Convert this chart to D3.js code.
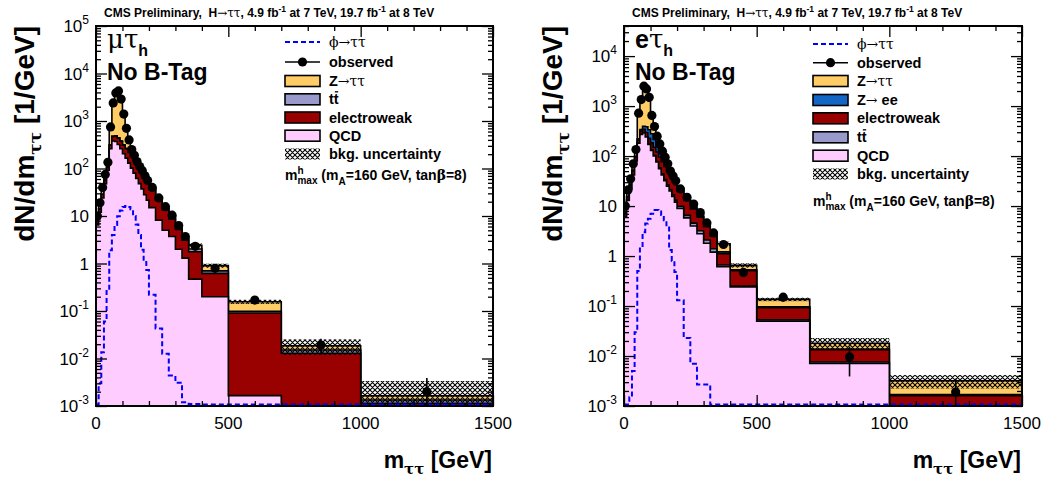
<!DOCTYPE html>
<html>
<head>
<meta charset="utf-8">
<script src="https://cdn.jsdelivr.net/npm/d3@7/dist/d3.min.js"></script>
<style>
  html, body { margin: 0; padding: 0; background: #fff; }
  svg { display: block; }
  svg text { white-space: pre; }
</style>
</head>
<body>
<svg id="chart" width="1045" height="478"></svg>
<script>
// m_tautau binning (GeV), shared by both channels
const binEdges = [0,10,20,30,40,50,60,70,80,90,100,110,120,130,140,150,160,170,180,190,200,
                  225,250,275,300,325,350,400,500,700,1000,1500];

// ---- mu tau_h channel, no b-tag (dN/dm in 1/GeV) ----
const mtQCD = [6.5,12,24,48,92,260,380,370,320,260,205,165,130,102,80,62,48,37,28,21.5,15,8.2,5,3.7,2,1.3,0.47,0.2,0.00165,0,0];
const mtEWK = [1.2,2.2,4.5,8.5,15,50,95,115,120,115,105,96,88,78,70,60,51,44,36,30,21.5,13,8.5,5,3.2,1.8,1.3,0.42,0.089,0.0129,0.00114];
const mtTT  = [0.05,0.08,0.15,0.3,0.5,1,2,3,3,4,4,4,4,4,4,3.5,3.5,3,3,2.5,2,1.5,1.1,0.8,0.5,0.3,0.25,0.08,0.008,0.0022,0.0002];
const mtZTT = [2,4,9,19,32,435,1920,3400,3800,2500,1080,440,175,68,34,16,8,4.5,3,2,1.5,0.8,0.6,0.4,0.3,0.2,0.4,0.2,0.058,0.0035,0.0003];
const mtObs = [10,19,40,75,135,750,2400,3900,4300,2900,1400,700,400,250,190,140,110,90,70,56,40,24,15.7,10.4,6.3,3.7,2.3,0.79,0.17,0.0192,0.002];
const mtObsErr = [1,1.4,2,2.7,3.7,8.7,15.5,19.7,20.7,17,11.8,8.4,6.3,5,4.4,3.7,3.3,3,2.6,2.4,1.3,1,0.8,0.65,0.5,0.38,0.21,0.09,0.029,0.007,0.0019];
const mtBkgUnc = [0.05,0.05,0.05,0.05,0.05,0.05,0.05,0.05,0.05,0.05,0.05,0.05,0.05,0.05,0.05,0.05,0.05,0.05,0.05,0.05,
                  0.06,0.06,0.07,0.07,0.08,0.08,0.1,0.1,0.1,0.36,1.05];
const mtSignal = [0,0.003,0.0135,0.06,0.28,1.9,4.0,6.5,9.9,13,15.5,16.3,15.5,13.8,10,6.6,4.0,1.95,1.2,0.73,0.22,0.043,0.0126,0.0044,0.0031,0.0012,0.0011,0,0,0,0];

// ---- e tau_h channel, no b-tag ----
const etQCD = [6,13,22,42,80,180,270,290,240,170,130,100,76,56,42,32,25,20,15.5,12,9,5.8,4,2.8,1.8,1.2,0.61,0.24,0.05,0.0071,0];
const etTT  = [0.05,0.1,0.2,0.3,0.5,1,1.5,2,2,2,2,2,2,2,2,1.8,1.6,1.4,1.2,1.1,0.9,0.7,0.55,0.4,0.3,0.2,0.05,0.01,0.003,0.0005,0.0002];
const etEWK = [1,2,4,8,14,28,42,52,55,55,52,48,43,38,33,28,24,20,16.5,13.5,10,6.5,4.2,2.8,1.8,1.1,0.45,0.26,0.04,0.0058,0.0014];
const etZEE = [0.3,0.6,1.2,2.5,5,12,25,50,90,110,95,65,40,24,14,8,4.5,2.5,1.5,1,0.6,0.4,0.3,0.2,0.15,0.1,0.1,0.02,0.003,0.0003,0.0001];
const etZTT = [2.4,5,8,17,38,470,1000,1900,1800,950,380,160,75,38,20,12,7,4.5,3,2.2,1.5,1,0.8,0.6,0.45,0.35,0.55,0.12,0.04,0.0043,0.0015];
const etObs = [10,21,35,70,135,720,1350,2500,2200,1500,650,390,250,175,125,95,70,50,40,32,22,15,11,7.4,4.6,2.9,1.7,0.47,0.15,0.0096,0.0019];
const etObsErr = [1,1.4,1.9,2.6,3.7,8.5,11.6,15.8,14.8,12.2,8,6.2,5,4.2,3.5,3.1,2.6,2.2,2,1.8,0.94,0.77,0.66,0.54,0.43,0.34,0.18,0.069,0.027,0.0057,0.0016];
const etBkgUnc = [0.05,0.05,0.05,0.05,0.05,0.05,0.05,0.05,0.05,0.05,0.05,0.05,0.05,0.05,0.05,0.05,0.05,0.05,0.05,0.05,
                  0.07,0.07,0.07,0.07,0.07,0.07,0.1,0.1,0.08,0.27,0.3];
const etSignal = [0,0,0.0015,0.005,0.03,0.5,1.5,3,4.5,5.6,7,8.3,8.3,7.8,6.6,5.2,3.9,1.32,0.8,0.48,0.13,0.023,0.007,0.0027,0.0027,0,0,0,0,0,0];

// axis ticks
const xTicks = [0,500,1000,1500];
const mtYTicks = [1e-3,1e-2,1e-1,1,10,100,1e3,1e4,1e5];
const etYTicks = [1e-3,1e-2,1e-1,1,10,100,1e3,1e4];

const COL = { ZTT: "#ffcc66", EWK: "#990000", TT: "#9999cc", QCD: "#ffccff", ZEE: "#1466c6", SIG: "#0000ff" };
const SANS = '"Liberation Sans", Arial, Helvetica, sans-serif';
const GREEK = '"DejaVu Serif", "Liberation Serif", "Times New Roman", serif';
const yMin = 1e-3;

const svg = d3.select("#chart");
const defs = svg.append("defs");
const hatch = defs.append("pattern").attr("id", "bkgHatch")
  .attr("patternUnits", "userSpaceOnUse").attr("width", 5).attr("height", 5);
hatch.append("path").attr("d", "M0,0L5,5M5,0L0,5M-1,4L1,6M4,-1L6,1")
  .attr("stroke", "#000").attr("stroke-width", 1.1);

// Sequential text runs (sub/superscripts, mixed fonts); returns group and width
function richText(parent, pieces, base) {
  const g = parent.append("g");
  let cx = 0, held = 0;
  pieces.forEach(pc => {
    const fs = pc.fs || base.fs;
    const t = g.append("text")
      .attr("x", cx).attr("y", pc.dy || 0)
      .attr("font-size", fs)
      .attr("font-weight", pc.fw || base.fw)
      .attr("font-family", pc.ff || base.ff)
      .attr("fill", "#000")
      .text(pc.t);
    const w = t.node().getComputedTextLength();
    if (pc.bar) {
      g.append("line").attr("x1", cx + 1).attr("x2", cx + w - 0.5)
        .attr("y1", -fs * 0.86).attr("y2", -fs * 0.86)
        .attr("stroke", "#000").attr("stroke-width", 1.3);
    }
    if (pc.hold) { held = Math.max(held, w); }
    else { cx += Math.max(w, held); held = 0; }
  });
  return { g, width: cx };
}

function drawPanel(p) {
  const root = svg.append("g");
  const x = d3.scaleLinear().domain([binEdges[0], binEdges[binEdges.length - 1]]).range([p.left, p.right]);
  const y = d3.scaleLog().domain([yMin, p.yMax]).range([p.bottom, p.top]);
  const floorV = 1e-6;
  const nb = binEdges.length - 1;

  const clipId = "clip-" + p.id;
  defs.append("clipPath").attr("id", clipId).append("rect")
    .attr("x", p.left).attr("y", p.top).attr("width", p.right - p.left).attr("height", p.bottom - p.top);
  const plot = root.append("g").attr("clip-path", `url(#${clipId})`);

  // cumulative stack, bottom layer first
  let run = new Array(nb).fill(0);
  const cums = p.stack.map(layer => {
    run = run.map((r, i) => r + layer.values[i]);
    return { color: layer.color, values: run.slice() };
  });
  const stepPts = vals => vals.map((v, i) => [binEdges[i], v]).concat([[binEdges[nb], vals[nb - 1]]]);
  const area = d3.area().curve(d3.curveStepAfter)
    .x(d => x(d[0])).y0(p.bottom).y1(d => y(Math.max(d[1], floorV)));
  cums.slice().reverse().forEach(c => {
    plot.append("path").attr("d", area(stepPts(c.values)))
      .attr("fill", c.color).attr("stroke", "#000").attr("stroke-width", 1.6)
      .attr("stroke-linejoin", "miter");
  });
  const total = cums[cums.length - 1].values;

  // background uncertainty band
  plot.selectAll(null).data(total).join("rect")
    .attr("x", (d, i) => x(binEdges[i]))
    .attr("width", (d, i) => x(binEdges[i + 1]) - x(binEdges[i]))
    .attr("y", (d, i) => y(d * (1 + p.unc[i])))
    .attr("height", (d, i) => y(Math.max(d * (1 - p.unc[i]), floorV)) - y(d * (1 + p.unc[i])))
    .attr("fill", "url(#bkgHatch)");

  // signal expectation
  const sigLine = d3.line().curve(d3.curveStepAfter)
    .x(d => x(d[0])).y(d => Math.min(y(Math.max(d[1], floorV)), p.bottom - 1.5));
  plot.append("path").attr("d", sigLine(stepPts(p.signal)))
    .attr("fill", "none").attr("stroke", COL.SIG).attr("stroke-width", 2).attr("stroke-dasharray", "5,3");

  // observed data
  const centers = p.obs.map((v, i) => (binEdges[i] + binEdges[i + 1]) / 2);
  plot.selectAll(null).data(p.obs).join("line")
    .attr("x1", (d, i) => x(centers[i])).attr("x2", (d, i) => x(centers[i]))
    .attr("y1", (d, i) => y(d + p.err[i]))
    .attr("y2", (d, i) => y(Math.max(d - p.err[i], floorV)))
    .attr("stroke", "#000").attr("stroke-width", 1.6);
  plot.selectAll(null).data(p.obs).join("circle")
    .attr("cx", (d, i) => x(centers[i])).attr("cy", d => y(d)).attr("r", 4.6).attr("fill", "#000");

  // ticks on all four sides, pointing inward
  const xMinor = d3.range(100, 1500, 100).filter(v => v % 500 !== 0);
  const yMinor = [];
  p.yTicks.forEach(dec => { for (let m = 2; m <= 9; m++) if (dec * m <= p.yMax) yMinor.push(dec * m); });
  const tickAxis = (axisFn, scale, values, size, tr) => {
    root.append("g").attr("transform", tr)
      .call(axisFn(scale).tickValues(values).tickSize(size).tickFormat(""))
      .call(g => { g.select(".domain").remove(); g.selectAll("line").attr("stroke", "#000").attr("stroke-width", 1.3); g.selectAll("text").remove(); });
  };
  tickAxis(d3.axisBottom, x, xTicks, -11, `translate(0,${p.bottom})`);
  tickAxis(d3.axisBottom, x, xMinor, -5, `translate(0,${p.bottom})`);
  tickAxis(d3.axisTop, x, xTicks, -11, `translate(0,${p.top})`);
  tickAxis(d3.axisTop, x, xMinor, -5, `translate(0,${p.top})`);
  tickAxis(d3.axisLeft, y, p.yTicks, -11, `translate(${p.left},0)`);
  tickAxis(d3.axisLeft, y, yMinor, -5, `translate(${p.left},0)`);
  tickAxis(d3.axisRight, y, p.yTicks, -11, `translate(${p.right},0)`);
  tickAxis(d3.axisRight, y, yMinor, -5, `translate(${p.right},0)`);

  root.append("rect").attr("x", p.left).attr("y", p.top)
    .attr("width", p.right - p.left).attr("height", p.bottom - p.top)
    .attr("fill", "none").attr("stroke", "#000").attr("stroke-width", 2);

  // tick labels
  xTicks.forEach(v => {
    root.append("text").attr("x", x(v)).attr("y", p.bottom + 23)
      .attr("text-anchor", "middle").attr("font-size", 17).attr("font-family", SANS).text(v);
  });
  p.yTicks.forEach(v => {
    const k = Math.round(Math.log10(v));
    const t = root.append("text").attr("x", p.left - 7).attr("y", y(v) + 6)
      .attr("text-anchor", "end").attr("font-size", 17).attr("font-family", SANS);
    if (k === 0) t.text("1");
    else if (k === 1) t.text("10");
    else {
      t.append("tspan").text("10");
      t.append("tspan").attr("dy", -8).attr("font-size", 12).text(k);
    }
  });

  // header line
  const title = richText(root, [
    { t: "CMS Preliminary,  H" },
    { t: "\u2192\u03c4\u03c4", ff: GREEK, fw: "normal" },
    { t: ", 4.9 fb" }, { t: "-1", dy: -5, fs: 8.5 },
    { t: " at 7 TeV, 19.7 fb" }, { t: "-1", dy: -5, fs: 8.5 },
    { t: " at 8 TeV" }
  ], { fs: 12, fw: "bold", ff: SANS });
  title.g.attr("transform", `translate(${p.left + 8},17)`);

  // axis titles, right/top aligned
  const xt = richText(root, [
    { t: "m" }, { t: "\u03c4\u03c4", ff: GREEK, fs: 15, dy: 6 }, { t: " [GeV]" }
  ], { fs: 23, fw: "bold", ff: SANS });
  xt.g.attr("transform", `translate(${p.right - 1 - xt.width},468)`);

  const ytOuter = root.append("g").attr("transform", `translate(${p.left - 62},${p.top}) rotate(-90)`);
  const yt = richText(ytOuter, [
    { t: "dN/dm" }, { t: "\u03c4\u03c4", ff: GREEK, fs: 17, dy: 7 }, { t: " [1/GeV]" }
  ], { fs: 28, fw: "bold", ff: SANS });
  yt.g.attr("transform", `translate(${-yt.width},0)`);

  // channel and category
  const ch = richText(root, p.channel, { fs: 25, fw: "bold", ff: SANS });
  ch.g.attr("transform", `translate(${p.left + 11},48)`);
  root.append("text").attr("x", p.left + 11).attr("y", 80)
    .attr("font-size", 23).attr("font-weight", "bold").attr("font-family", SANS).text("No B-Tag");

  // legend
  const lg = root.append("g");
  p.legend.forEach(e => {
    const cy = e.y;
    const bx = p.legendX, bw = 35, bh = 11;
    if (e.kind === "signal") {
      lg.append("line").attr("x1", bx).attr("x2", bx + bw).attr("y1", cy).attr("y2", cy)
        .attr("stroke", COL.SIG).attr("stroke-width", 2).attr("stroke-dasharray", "5,3");
    } else if (e.kind === "obs") {
      lg.append("line").attr("x1", bx).attr("x2", bx + bw).attr("y1", cy).attr("y2", cy)
        .attr("stroke", "#000").attr("stroke-width", 1.6);
      lg.append("circle").attr("cx", bx + bw / 2).attr("cy", cy).attr("r", 4.6).attr("fill", "#000");
    } else if (e.kind === "hatch") {
      lg.append("rect").attr("x", bx).attr("y", cy - bh / 2).attr("width", bw).attr("height", bh)
        .attr("fill", "url(#bkgHatch)");
    } else {
      lg.append("rect").attr("x", bx).attr("y", cy - bh / 2).attr("width", bw).attr("height", bh)
        .attr("fill", e.color).attr("stroke", "#000").attr("stroke-width", 1.6);
    }
    const tg = richText(lg, e.label, { fs: 14.5, fw: "bold", ff: SANS });
    tg.g.attr("transform", `translate(${p.legendTextX},${cy + 5})`);
  });
  const note = richText(lg, [
    { t: "m" }, { t: "h", fs: 10, dy: -6, hold: true }, { t: "max", fs: 10, dy: 4 },
    { t: " (m" }, { t: "A", fs: 10, dy: 5 }, { t: "=160 GeV, tan" },
    { t: "\u03b2", ff: GREEK }, { t: "=8)" }
  ], { fs: 14, fw: "bold", ff: SANS });
  note.g.attr("transform", `translate(${p.legendX},${p.noteY})`);
}

const sigLabel = [{ t: "\u03d5\u2192\u03c4\u03c4", ff: GREEK, fw: "normal", fs: 14 }];
const zttLabel = [{ t: "Z" }, { t: "\u2192\u03c4\u03c4", ff: GREEK, fw: "normal", fs: 14 }];
const ttLabel = [{ t: "t" }, { t: "t", bar: true }];

drawPanel({
  id: "mt", left: 96, right: 493, top: 26, bottom: 406, yMax: 1e5, yTicks: mtYTicks,
  stack: [
    { color: COL.QCD, values: mtQCD },
    { color: COL.EWK, values: mtEWK },
    { color: COL.TT, values: mtTT },
    { color: COL.ZTT, values: mtZTT }
  ],
  unc: mtBkgUnc, signal: mtSignal, obs: mtObs, err: mtObsErr,
  channel: [{ t: "\u03bc\u03c4", ff: GREEK, fw: "normal", fs: 26 }, { t: "h", fs: 16, dy: 8 }],
  legendX: 285, legendTextX: 329, noteY: 180,
  legend: [
    { kind: "signal", y: 42, label: sigLabel },
    { kind: "obs", y: 62, label: [{ t: "observed" }] },
    { kind: "box", y: 81, color: COL.ZTT, label: zttLabel },
    { kind: "box", y: 99.3, color: COL.TT, label: ttLabel },
    { kind: "box", y: 117.5, color: COL.EWK, label: [{ t: "electroweak" }] },
    { kind: "box", y: 135.7, color: COL.QCD, label: [{ t: "QCD" }] },
    { kind: "hatch", y: 154, label: [{ t: "bkg. uncertainty" }] }
  ]
});

drawPanel({
  id: "et", left: 624, right: 1022, top: 26, bottom: 406, yMax: 4e4, yTicks: etYTicks,
  stack: [
    { color: COL.QCD, values: etQCD },
    { color: COL.TT, values: etTT },
    { color: COL.EWK, values: etEWK },
    { color: COL.ZEE, values: etZEE },
    { color: COL.ZTT, values: etZTT }
  ],
  unc: etBkgUnc, signal: etSignal, obs: etObs, err: etObsErr,
  channel: [{ t: "e" }, { t: "\u03c4", ff: GREEK, fw: "normal", fs: 26 }, { t: "h", fs: 16, dy: 8 }],
  legendX: 813, legendTextX: 857, noteY: 206,
  legend: [
    { kind: "signal", y: 44, label: sigLabel },
    { kind: "obs", y: 62.7, label: [{ t: "observed" }] },
    { kind: "box", y: 81, color: COL.ZTT, label: zttLabel },
    { kind: "box", y: 100, color: COL.ZEE, label: [{ t: "Z" }, { t: "\u2192", ff: GREEK, fw: "normal", fs: 14 }, { t: " ee" }] },
    { kind: "box", y: 118.3, color: COL.EWK, label: [{ t: "electroweak" }] },
    { kind: "box", y: 137.3, color: COL.TT, label: ttLabel },
    { kind: "box", y: 155.7, color: COL.QCD, label: [{ t: "QCD" }] },
    { kind: "hatch", y: 174, label: [{ t: "bkg. uncertainty" }] }
  ]
});
</script>
</body>
</html>
